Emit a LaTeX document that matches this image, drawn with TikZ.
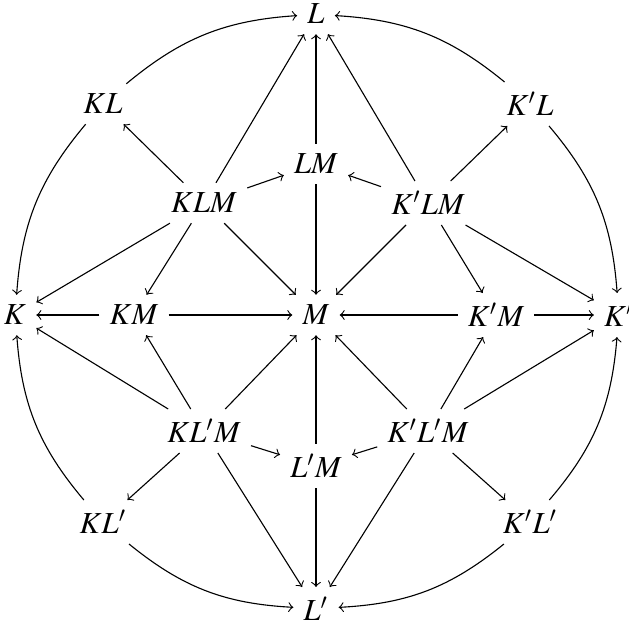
\documentclass[tikz,border=0pt]{standalone}
\usepackage{mathptmx}
\begin{document}
\begin{tikzpicture}[x=0.36pt,y=-0.36pt,>=to,
  lbl/.style={inner sep=3.5pt,font=\fontsize{11pt}{13pt}\selectfont},
  ar/.style={->,line width=0.4pt},
  arcl/.style={->,line width=0.4pt,bend left=18},
  arcr/.style={->,line width=0.4pt,bend right=18}]
\useasboundingbox (0,0) rectangle (629,631);
\node[lbl] (L) at (316,14) {$L$};
\node[lbl] (Lp) at (316,609) {$L'$};
\node[lbl] (K) at (15,315) {$K$};
\node[lbl] (Kp) at (619,315) {$K'$};
\node[lbl] (M) at (316,315) {$M$};
\node[lbl] (KL) at (103,104) {$KL$};
\node[lbl] (KpL) at (530,104) {$K'L$};
\node[lbl] (KLp) at (103,522) {$KL'$};
\node[lbl] (KpLp) at (530,522) {$K'L'$};
\node[lbl] (LM) at (316,164) {$LM$};
\node[lbl] (LpM) at (316,466) {$L'M$};
\node[lbl] (KLM) at (204,203) {$KLM$};
\node[lbl] (KpLM) at (428,203) {$K'LM$};
\node[lbl] (KLpM) at (204,431) {$KL'M$};
\node[lbl] (KpLpM) at (428,431) {$K'L'M$};
\node[lbl] (KM) at (134,315) {$KM$};
\node[lbl] (KpM) at (496,315) {$K'M$};
% outer arcs
\draw[arcl] (KL) to (L);
\draw[arcr] (KL) to (K);
\draw[arcr] (KpL) to (L);
\draw[arcl] (KpL) to (Kp);
\draw[arcl] (KLp) to (K);
\draw[arcr] (KLp) to (Lp);
\draw[arcr] (KpLp) to (Kp);
\draw[arcl] (KpLp) to (Lp);
% inner connectors
\foreach \t in {KL,L,LM,K,KM,M} \draw[ar] (KLM) -- (\t);
\foreach \t in {KpL,L,LM,Kp,KpM,M} \draw[ar] (KpLM) -- (\t);
\foreach \t in {KLp,Lp,LpM,K,KM,M} \draw[ar] (KLpM) -- (\t);
\foreach \t in {KpLp,Lp,LpM,Kp,KpM,M} \draw[ar] (KpLpM) -- (\t);
\draw[ar] (LM) -- (L);
\draw[ar] (LM) -- (M);
\draw[ar] (LpM) -- (M);
\draw[ar] (LpM) -- (Lp);
\draw[ar] (KM) -- (K);
\draw[ar] (KM) -- (M);
\draw[ar] (KpM) -- (M);
\draw[ar] (KpM) -- (Kp);
\end{tikzpicture}
\end{document}
